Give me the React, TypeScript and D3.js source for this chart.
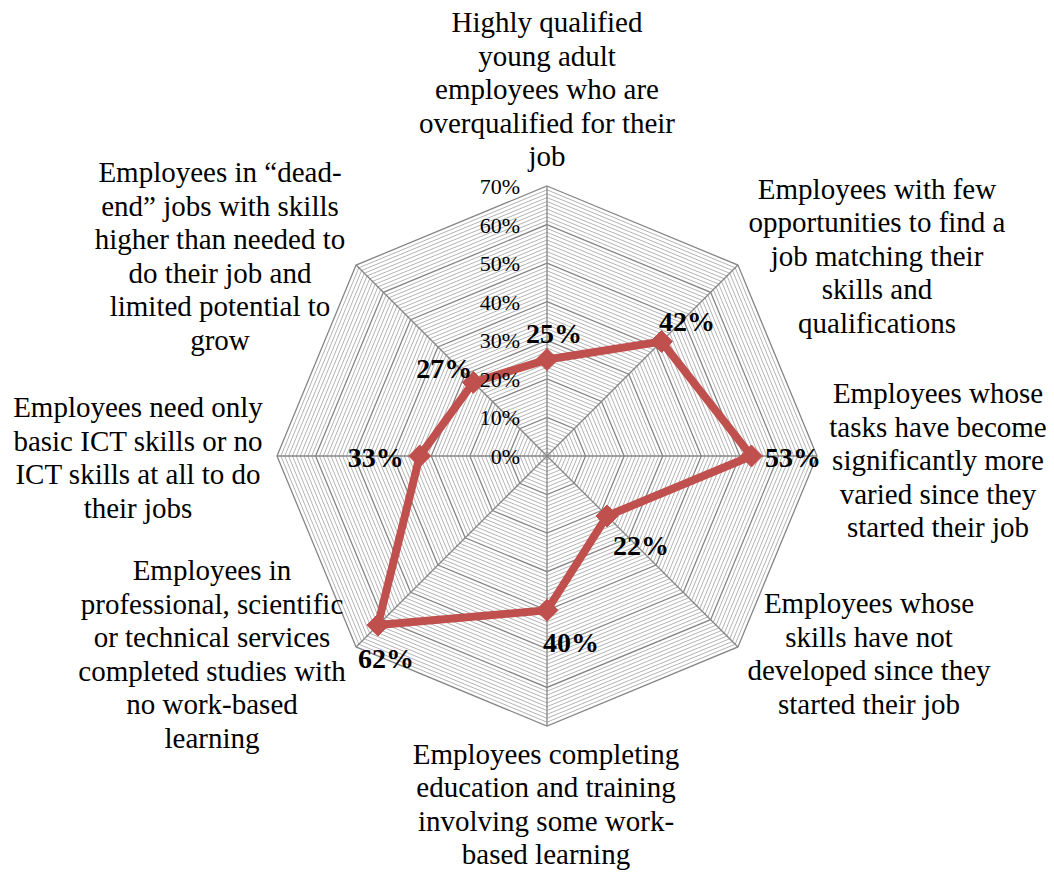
import React from "react";
import * as d3 from "d3";

// ---- data ----
const categories: string[][] = [
  ["Highly qualified", "young adult", "employees who are", "overqualified for their", "job"],
  ["Employees with few", "opportunities to find a", "job matching their", "skills and", "qualifications"],
  ["Employees whose", "tasks have become", "significantly more", "varied since they", "started their job"],
  ["Employees whose", "skills have not", "developed since they", "started their job"],
  ["Employees completing", "education and training", "involving some work-", "based learning"],
  ["Employees in", "professional, scientific", "or technical services", "completed studies with", "no work-based", "learning"],
  ["Employees need only", "basic ICT skills or no", "ICT skills at all to do", "their jobs"],
  ["Employees in \u201cdead-", "end\u201d jobs with skills", "higher than needed to", "do their job and", "limited potential to", "grow"],
];
const values: number[] = [25, 42, 53, 22, 40, 62, 33, 27];
const majorTicks: number[] = [0, 10, 20, 30, 40, 50, 60, 70];
const tickLabels: string[] = ["0%", "10%", "20%", "30%", "40%", "50%", "60%", "70%"];

// ---- layout / style ----
const W = 1054;
const H = 873;
const CX = 547;
const CY = 456;
const R = 270;
const FONT = '"Liberation Serif", "Times New Roman", Times, "DejaVu Serif", serif';
const RED = "#C0504D";
// category label anchors: center x, first baseline
const catAnchors: [number, number][] = [
  [547, 32],
  [877, 198.5],
  [938, 403],
  [869, 613],
  [546, 763.5],
  [212, 580],
  [138, 417],
  [220, 182],
];
// data label offsets (label center relative to point)
const labelOffsets: [number, number][] = [
  [7, -26],
  [25.5, -19.5],
  [41.5, 1],
  [34, 29],
  [24, 32],
  [8, 33],
  [-44, 1],
  [-29, -14],
];
const LINE_H = 33.5;

export default function App() {
  const n = categories.length;
  const r = d3.scaleLinear().domain([0, 70]).range([0, R]);
  const angle = (i: number) => (i * 2 * Math.PI) / n;
  const pt = (i: number, v: number): [number, number] => [
    CX + r(v) * Math.sin(angle(i)),
    CY - r(v) * Math.cos(angle(i)),
  ];

  const ring = d3
    .lineRadial<number>()
    .angle((_, i) => angle(i))
    .radius((d) => r(d))
    .curve(d3.curveLinearClosed);

  const minorLevels = d3.range(1, 71).filter((v) => v % 10 !== 0);
  const seriesPath = ring(values) || "";

  return (
    <svg
      width={W}
      height={H}
      style={{ position: "absolute", left: 0, top: 0, background: "#fff", fontFamily: FONT }}
    >
      <g transform={`translate(${CX},${CY})`}>
        {minorLevels.map((lv) => (
          <path
            key={"m" + lv}
            d={ring(d3.range(n).map(() => lv)) || ""}
            fill="none"
            stroke="#b4b4b4"
            strokeWidth={1}
          />
        ))}
        {majorTicks.slice(1).map((lv) => (
          <path
            key={"M" + lv}
            d={ring(d3.range(n).map(() => lv)) || ""}
            fill="none"
            stroke="#868686"
            strokeWidth={1.3}
          />
        ))}
        {d3.range(n).map((i) => (
          <line
            key={"s" + i}
            x1={0}
            y1={0}
            x2={r(70) * Math.sin(angle(i))}
            y2={-r(70) * Math.cos(angle(i))}
            stroke="#868686"
            strokeWidth={1.3}
          />
        ))}
        <path d={seriesPath} fill="none" stroke={RED} strokeWidth={8} strokeLinejoin="miter" />
      </g>
      {values.map((v, i) => {
        const [x, y] = pt(i, v);
        const s = 11;
        return (
          <path
            key={"d" + i}
            d={`M${x},${y - s}L${x + s},${y}L${x},${y + s}L${x - s},${y}Z`}
            fill={RED}
            stroke={RED}
            strokeWidth={1}
          />
        );
      })}
      {majorTicks.map((t, i) => (
        <text
          key={"t" + t}
          x={520}
          y={CY - r(t) + 8}
          textAnchor="end"
          fontSize={22}
          fill="#000"
          style={{ fontFamily: FONT }}
        >
          {tickLabels[i]}
        </text>
      ))}
      {values.map((v, i) => {
        const [x, y] = pt(i, v);
        return (
          <text
            key={"l" + i}
            x={x + labelOffsets[i][0]}
            y={y + labelOffsets[i][1] + 9.5}
            textAnchor="middle"
            fontSize={28}
            fontWeight="bold"
            fill="#000"
            style={{ fontFamily: FONT }}
          >
            {`${v}%`}
          </text>
        );
      })}
      {categories.map((lines, i) => (
        <text
          key={"c" + i}
          textAnchor="middle"
          fontSize={29}
          fill="#000"
          style={{ fontFamily: FONT }}
        >
          {lines.map((ln, j) => (
            <tspan key={j} x={catAnchors[i][0]} y={catAnchors[i][1] + j * LINE_H}>
              {ln}
            </tspan>
          ))}
        </text>
      ))}
    </svg>
  );
}
